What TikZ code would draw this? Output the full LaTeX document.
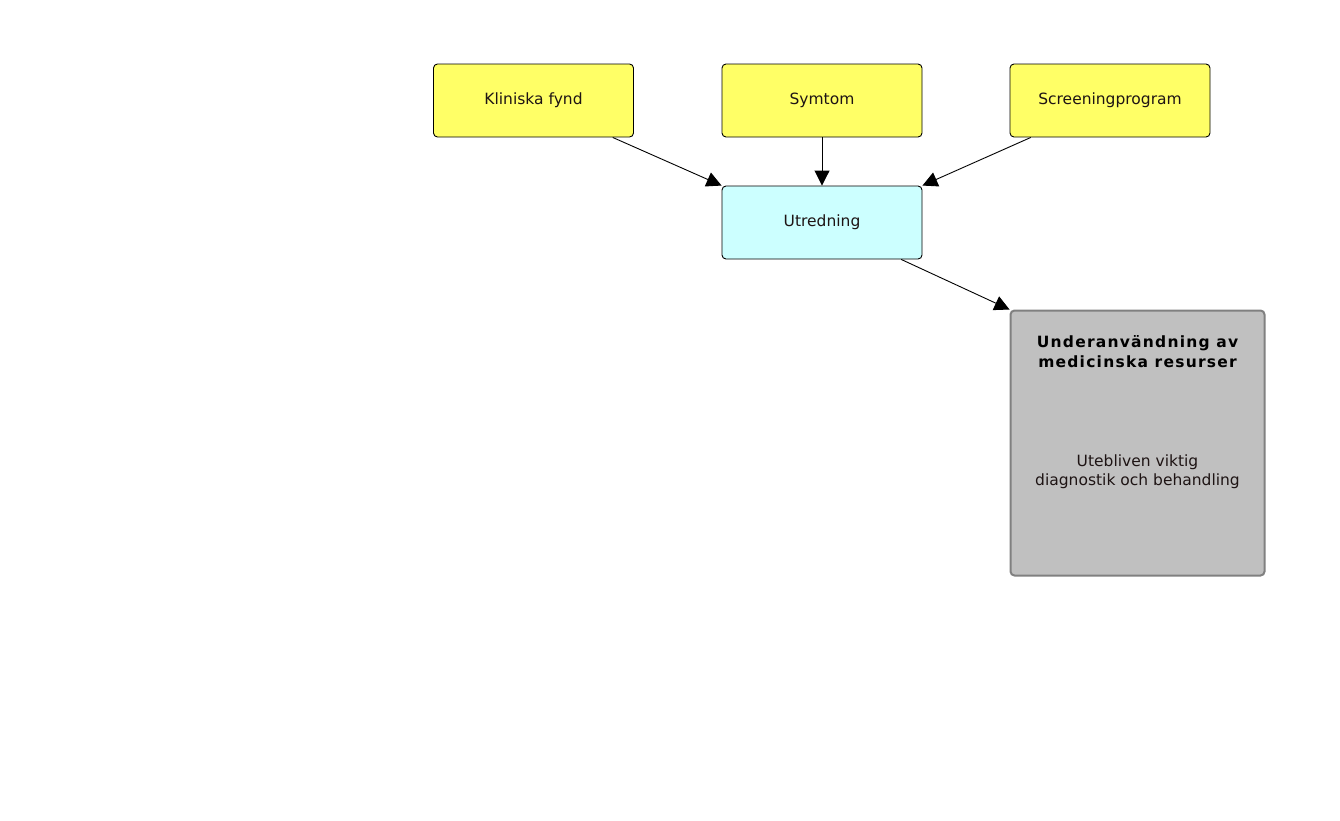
\documentclass[tikz,border=0pt]{standalone}
\usepackage{fontspec}
\setmainfont{DejaVu Sans}
\usetikzlibrary{arrows.meta,positioning}
\definecolor{boxyellow}{RGB}{255, 255, 102}
\definecolor{boxcyan}{RGB}{204, 255, 255}
\definecolor{boxgray}{RGB}{192, 192, 192}
\definecolor{edgegray}{RGB}{128, 128, 128}
\definecolor{inkdark}{RGB}{30, 20, 20}

\begin{document}
\begin{tikzpicture}[x=1pt,y=-1pt,
  font=\fontsize{15.5}{19}\selectfont,text=inkdark,
  stepbox/.style={rectangle,draw,rounded corners=4pt,line width=0.9pt,
    minimum width=200pt,minimum height=73pt,inner sep=0pt},
  flow/.style={line width=0.9pt,-{Triangle[length=15pt,width=15pt]}}]
\useasboundingbox (0,0) rectangle (1340,820);

% Sources
\node[stepbox,fill=boxyellow] (kf) at (533.5,100.5) {Kliniska fynd};
\node[stepbox,fill=boxyellow] (sy) at (822,100.5) {Symtom};
\node[stepbox,fill=boxyellow] (sc) at (1110,100.5) {Screeningprogram};

% Investigation
\node[stepbox,fill=boxcyan] (ut) at (822,222.5) {Utredning};

% Outcome
\node[rectangle,draw=edgegray,line width=2pt,rounded corners=4pt,fill=boxgray,
  minimum width=254pt,minimum height=265pt] (ug) at (1137.5,443) {};
\node[align=center,text=black,
  font=\fontsize{15.5}{20}\selectfont\bfseries\addfontfeatures{LetterSpace=8}]
  (ugt) at (1137.5,352) {Underanvändning av\\medicinska resurser};
\node[align=center] (ugb) at (1137.5,472)
  {Utebliven viktig\\diagnostik och behandling};

% Connections
\draw[flow] (kf.-25) -- (ut.north west);
\draw[flow] (sy) -- (ut);
\draw[flow] (sc.205) -- (ut.north east);
\draw[flow] (ut.-25) -- (ug.north west);
\end{tikzpicture}
\end{document}
